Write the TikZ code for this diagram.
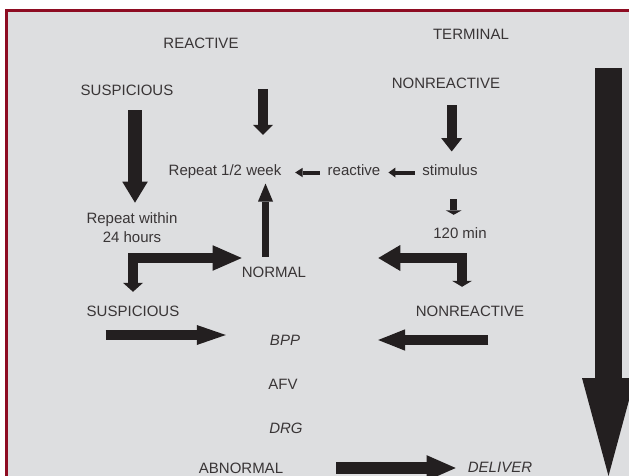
\documentclass[tikz,border=0pt]{standalone}
\usepackage{fontspec}
\setmainfont{Liberation Sans}
\usetikzlibrary{arrows.meta,calc}
\definecolor{panel}{HTML}{DDDEE0}
\definecolor{frame}{HTML}{8E0C22}
\definecolor{ink}{HTML}{231F20}

\begin{document}
\begin{tikzpicture}[x=1pt,y=-1pt,
  txt/.style={font=\fontsize{15}{19}\selectfont,text=ink!90,inner sep=0pt},
  lbl/.style={txt,text height=11pt,text depth=0pt},
  blk/.style={draw=ink,line width=#1},
  hd/.style 2 args={-{Triangle[length=#1pt,width=#2pt,line width=0pt]}}]
\useasboundingbox (0,0) rectangle (629,476);
\fill[white] (0,0) rectangle (629,476);
\fill[panel] (5,9) rectangle (629,476);
\draw[frame,line width=3pt] (6.5,476) |- (629,10.5);

% labels
\node[lbl] (reactive) at (201,43) {REACTIVE};
\node[lbl] (terminal) at (471,34) {TERMINAL};
\node[lbl] (susp1) at (127,90) {SUSPICIOUS};
\node[lbl] (nonr1) at (446,83) {NONREACTIVE};
\node[lbl] (rep) at (225,170) {Repeat 1/2 week};
\node[lbl] (react) at (354,170) {reactive};
\node[lbl] (stim) at (450,170) {stimulus};
\node[lbl] (min) at (460,233) {120 min};
\node[txt,align=center] (rep24) at (132,227.5) {Repeat within\\24 hours};
\node[lbl] (normal) at (274,272) {NORMAL};
\node[lbl] (susp2) at (133,311) {SUSPICIOUS};
\node[lbl] (nonr2) at (470,311) {NONREACTIVE};
\node[lbl] (bpp) at (285,340) {\textit{BPP}};
\node[lbl] (afv) at (283,384) {AFV};
\node[lbl] (drg) at (286,428) {\textit{DRG}};
\node[lbl] (abn) at (241,468) {ABNORMAL};
\node[lbl] (deliver) at (500,467) {\textit{DELIVER}};

% top rows
\coordinate (r0) at (263,89);
\draw[blk=13.5pt,hd={21}{25.5},shorten <=14.5pt,shorten >=9.6pt]
  ($(susp1.south)+(8,0)$) -- ($(susp1.south |- rep24.north)+(8,0)$);
\draw[blk=10pt,hd={10}{20},shorten >=29.5pt] (r0) -- (r0 |- rep.north);
\draw[blk=10pt,hd={13.4}{21},shorten <=16.5pt,shorten >=12.8pt]
  ($(nonr1.south)+(5.7,0)$) -- ($(nonr1.south |- stim.north)+(5.7,0)$);
\draw[blk=4pt,hd={7}{10},shorten <=7.5pt,shorten >=8pt]
  ($(stim.west)+(0,2.5)$) -- ($(react.east)+(0,2.5)$);
\draw[blk=4pt,hd={7.5}{9.5},shorten <=7.7pt,shorten >=13.7pt]
  ($(react.west)+(0,2.5)$) -- ($(rep.east)+(0,2.5)$);
\draw[blk=7.3pt,hd={4.5}{16},shorten <=23.5pt,shorten >=12.5pt]
  ($(stim.south)+(3.7,0)$) -- ($(stim.south |- min.north)+(3.7,0)$);
\draw[blk=7.7pt,hd={18}{15},shorten <=9.8pt,shorten >=7.8pt]
  ($(normal.north)+(-8.5,0)$) -- ($(normal.north |- rep.south)+(-8.5,0)$);

% bent arrows
\draw[blk=10pt,{Triangle[length=9pt,width=20pt,line width=0pt]}-{Triangle[length=29pt,width=25.5pt,line width=0pt]},
  shorten <=13.5pt] (susp2.north) |- ($(normal.west)+(0,-14)$);
\draw[blk=10pt,{Triangle[length=6pt,width=20pt,line width=0pt]}-{Triangle[length=22pt,width=26pt,line width=0pt]},
  shorten <=18.5pt,shorten >=72pt] ($(nonr2.north)+(-8,0)$) |- ($(normal.east)+(0,-14)$);

% lower rows
\draw[blk=10pt,hd={29}{20},shorten >=44pt]
  ($(susp2.west |- bpp.west)+(19,-5)$) -- ($(bpp.west)+(0,-5)$);
\draw[blk=10pt,hd={27}{21.5},shorten >=78pt]
  ($(nonr2.east |- bpp.east)+(-36,0)$) -- (bpp.east);
\draw[blk=12.3pt,hd={29}{25.6},shorten <=53pt,shorten >=12pt]
  (abn.east) -- (abn.east -| deliver.west);

% time line
\coordinate (t0) at (608.5,68);
\coordinate (t1) at (608.5,476);
\draw[blk=27pt,hd={98}{53}] (t0) -- (t1);
\end{tikzpicture}
\end{document}
